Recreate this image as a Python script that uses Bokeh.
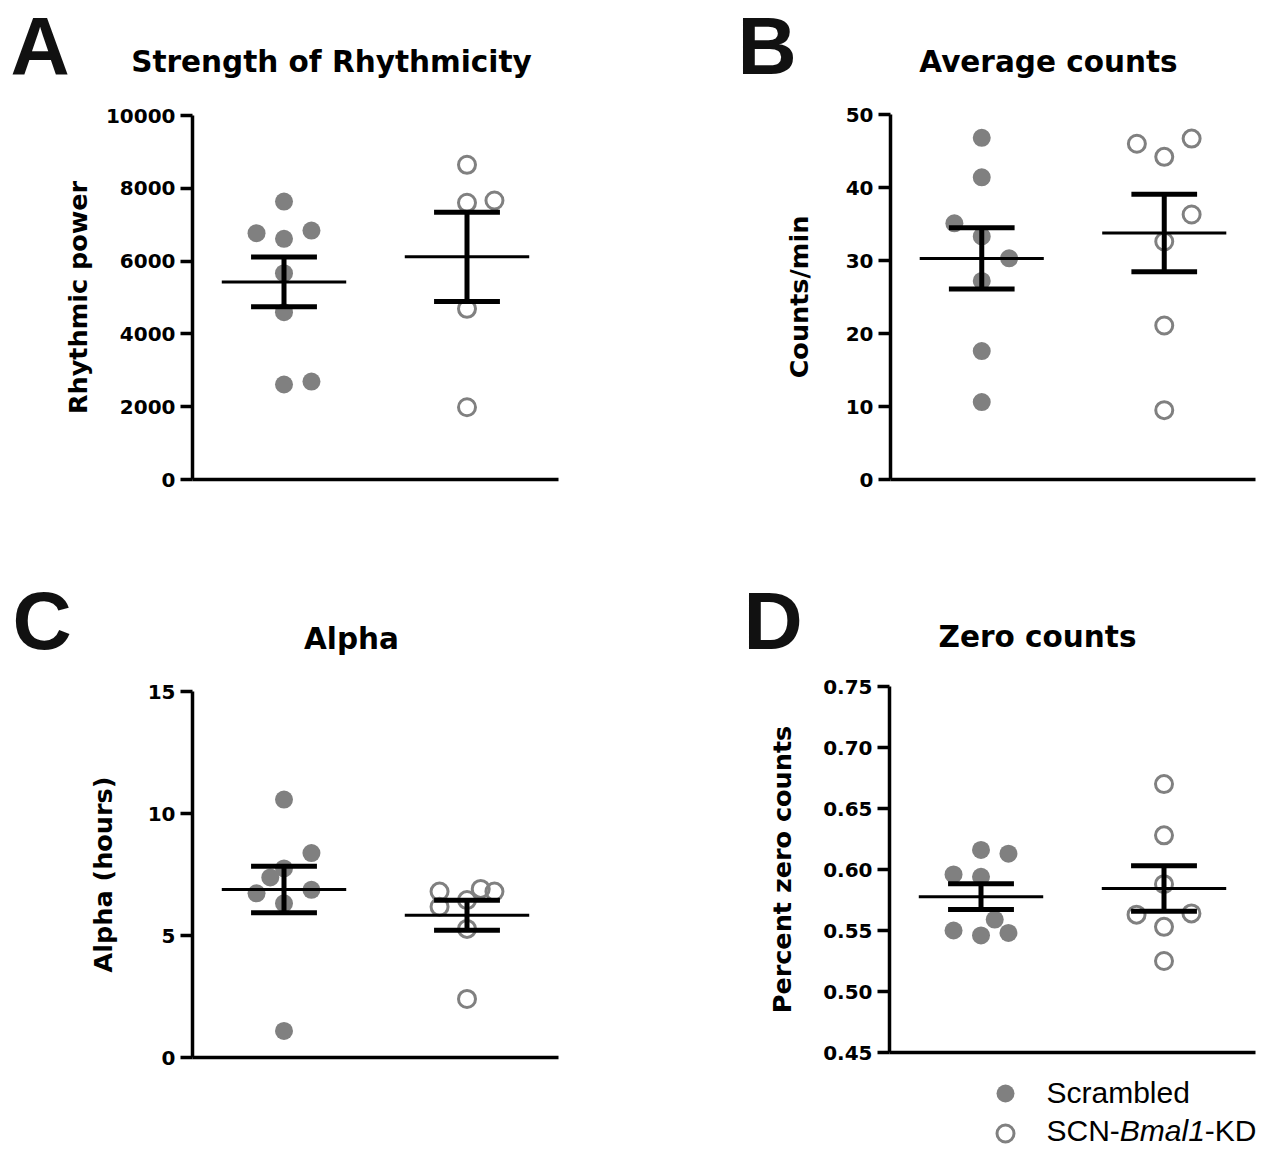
import numpy as np
from bokeh.plotting import figure
from bokeh.models import Range1d, FixedTicker, PrintfTickFormatter, Label
from bokeh.layouts import row, column
from bokeh.embed import file_html
from bokeh.resources import INLINE

# ---------------- data ----------------
group_names = ["Scrambled", "SCN-Bmal1-KD"]
group_x = [1, 3]

# A: Strength of Rhythmicity (rhythmic power)
A_scr = [7637, 6766, 6840, 6612, 5668, 4597, 2610, 2692]
A_scr_jit = [0, -0.3, 0.3, 0, 0, 0, 0, 0.3]
A_kd = [8645, 7601, 7665, 4689, 1986]
A_kd_jit = [0, 0, 0.3, 0, 0]
A_ticks = [0, 2000, 4000, 6000, 8000, 10000]

# B: Average counts (counts/min)
B_scr = [46.8, 41.4, 35.1, 33.3, 30.3, 27.2, 17.6, 10.6]
B_scr_jit = [0, 0, -0.3, 0, 0.3, 0, 0, 0]
B_kd = [46.0, 44.2, 46.7, 36.3, 32.6, 21.1, 9.5]
B_kd_jit = [-0.3, 0, 0.3, 0.3, 0, 0, 0]
B_ticks = [0, 10, 20, 30, 40, 50]

# C: Alpha (hours)
C_scr = [10.57, 8.38, 7.75, 7.38, 6.73, 6.87, 6.32, 1.09]
C_scr_jit = [0, 0.3, 0, -0.15, -0.3, 0.3, 0, 0]
C_kd = [6.80, 6.18, 6.45, 6.91, 6.80, 5.27, 2.40]
C_kd_jit = [-0.3, -0.3, 0, 0.15, 0.3, 0, 0]
C_ticks = [0, 5, 10, 15]

# D: Zero counts (percent zero counts)
D_scr = [0.616, 0.613, 0.596, 0.594, 0.559, 0.550, 0.546, 0.548]
D_scr_jit = [0, 0.3, -0.3, 0, 0.15, -0.3, 0, 0.3]
D_kd = [0.670, 0.628, 0.588, 0.563, 0.564, 0.553, 0.525]
D_kd_jit = [0, 0, 0, -0.3, 0.3, 0, 0]
D_ticks = [0.45, 0.50, 0.55, 0.60, 0.65, 0.70, 0.75]

titles = ["Strength of Rhythmicity", "Average counts", "Alpha", "Zero counts"]
letters = ["A", "B", "C", "D"]
ylabels = ["Rhythmic power", "Counts/min", "Alpha (hours)", "Percent zero counts"]

GRAY = "#808080"
BOLD_FONT = "DejaVu Sans"
PLAIN_FONT = "Liberation Sans"
TOTAL_W = 1263
BASE_SHIFT = 0.36  # Label baseline correction (fraction of font size)
LETTER_SIZE = 82


def blank_fig(w, h):
    """A figure whose frame is the whole canvas; data units are pixels (y downward)."""
    f = figure(width=w, height=h, min_border=0, x_range=Range1d(0, w), y_range=Range1d(h, 0),
               x_axis_location=None, y_axis_location=None,
               output_backend="svg", toolbar_location=None, title=None)
    f.xgrid.visible = False
    f.ygrid.visible = False
    f.outline_line_color = None
    f.background_fill_color = "white"
    f.border_fill_color = "white"
    return f


def text_at(f, x, base, text, size, font, style="normal", align="left", color="black"):
    f.add_layout(Label(x=x, y=base - BASE_SHIFT * size, text=text, text_align=align,
                       text_baseline="alphabetic", text_font=font, text_font_style=style,
                       text_font_size=f"{size}px", text_color=color))


def header(h, items):
    f = blank_fig(TOTAL_W, h)
    for (letter, lx, lbase, title, tx, tbase) in items:
        text_at(f, lx, lbase, letter, LETTER_SIZE, PLAIN_FONT, "bold", "left", "#111111")
        text_at(f, tx, tbase, title, 29.5, BOLD_FONT, "bold", "center")
    return f


def make_panel(borders, frame, yr, yticks, fmt, ylabel, lab_standoff, scr, scr_jit, kd, kd_jit):
    bl, bt, br, bb = borders
    fw, fh = frame
    p = figure(frame_width=fw, frame_height=fh,
               min_border_left=bl, min_border_top=bt, min_border_right=br, min_border_bottom=bb,
               x_range=Range1d(0, 4), y_range=Range1d(*yr),
               output_backend="svg", toolbar_location=None, title=None)
    p.xgrid.visible = False
    p.ygrid.visible = False
    p.outline_line_color = None
    p.background_fill_color = "white"
    p.border_fill_color = "white"

    p.xaxis.ticker = FixedTicker(ticks=[])
    p.xaxis.major_tick_line_color = None
    p.xaxis.minor_tick_line_color = None
    p.xaxis.major_label_text_font_size = "0px"
    p.xaxis.axis_line_width = 3.5
    p.xaxis.axis_line_color = "black"

    p.yaxis.ticker = FixedTicker(ticks=yticks)
    p.yaxis.formatter = PrintfTickFormatter(format=fmt)
    p.yaxis.minor_tick_line_color = None
    p.yaxis.major_tick_out = 12
    p.yaxis.major_tick_in = 0
    p.yaxis.major_tick_line_width = 3.5
    p.yaxis.major_tick_line_color = "black"
    p.yaxis.axis_line_width = 3.5
    p.yaxis.axis_line_color = "black"
    p.yaxis.major_label_text_font = BOLD_FONT
    p.yaxis.major_label_text_font_style = "bold"
    p.yaxis.major_label_text_font_size = "20px"
    p.yaxis.major_label_text_color = "black"
    p.yaxis.major_label_standoff = 5
    p.yaxis.axis_label = ylabel
    p.yaxis.axis_label_text_font = BOLD_FONT
    p.yaxis.axis_label_text_font_style = "bold"
    p.yaxis.axis_label_text_font_size = "25.5px"
    p.yaxis.axis_label_text_color = "black"
    p.yaxis.axis_label_standoff = lab_standoff

    for vals, jit, xc, filled in [(scr, scr_jit, group_x[0], True), (kd, kd_jit, group_x[1], False)]:
        xs = [xc + j for j in jit]
        if filled:
            p.scatter(xs, vals, size=18, marker="circle", fill_color=GRAY, line_color=None)
        else:
            p.scatter(xs, vals, size=17, marker="circle", fill_color=None,
                      line_color=GRAY, line_width=3)
    for vals, xc in [(scr, group_x[0]), (kd, group_x[1])]:
        m = float(np.mean(vals))
        s = float(np.std(vals, ddof=1) / np.sqrt(len(vals)))
        p.segment(x0=[xc - 0.68], y0=[m], x1=[xc + 0.68], y1=[m], line_width=3, line_color="black")
        p.segment(x0=[xc, xc - 0.36, xc - 0.36], y0=[m - s, m + s, m - s],
                  x1=[xc, xc + 0.36, xc + 0.36], y1=[m + s, m + s, m - s],
                  line_width=5, line_color="black")
    return p


# header for top row (page y 0..96)
hdr1 = header(96, [(letters[0], 10, 75, titles[0], 331, 72),
                   (letters[1], 737, 75, titles[1], 1048, 72)])

pA = make_panel((192, 19, 62, 91), (366, 364), (0, 10000), A_ticks, "%d", ylabels[0], 10,
                A_scr, A_scr_jit, A_kd, A_kd_jit)
pB = make_panel((270, 18, 8, 91), (365, 365), (0, 50), B_ticks, "%d", ylabels[1], 29,
                B_scr, B_scr_jit, B_kd, B_kd_jit)

# header for bottom row (page y 570..668)
hdr2 = header(98, [(letters[2], 12, 80, titles[2], 351, 79),
                   (letters[3], 743, 80, titles[3], 1037, 77)])

pC = make_panel((192, 23, 62, 13), (366, 366), (0, 15), C_ticks, "%d", ylabels[2], 27,
                C_scr, C_scr_jit, C_kd, C_kd_jit)
pD = make_panel((269, 18, 8, 18), (366, 366), (0.45, 0.75), D_ticks, "%.2f", ylabels[3], 23,
                D_scr, D_scr_jit, D_kd, D_kd_jit)

# legend strip (page y 1070..1148), full width
leg = blank_fig(TOTAL_W, 78)
leg.scatter([1005], [23], size=18, marker="circle", fill_color=GRAY, line_color=None)
leg.scatter([1005], [63], size=17, marker="circle", fill_color=None, line_color=GRAY, line_width=3)
text_at(leg, 1046, 33, group_names[0], 30, PLAIN_FONT)
text_at(leg, 1046, 71, "SCN-", 30, PLAIN_FONT)
text_at(leg, 1046 + 73.3, 71, "Bmal1", 30, PLAIN_FONT, "italic")
text_at(leg, 1046 + 73.3 + 85.0, 71, "-KD", 30, PLAIN_FONT)

# nesting the right-hand plots keeps their own top borders (no frame alignment across the row)
layout = column(hdr1, row(pA, column(pB)), hdr2, row(pC, column(pD)), leg)
open("out.html", "w").write(file_html(layout, INLINE))
